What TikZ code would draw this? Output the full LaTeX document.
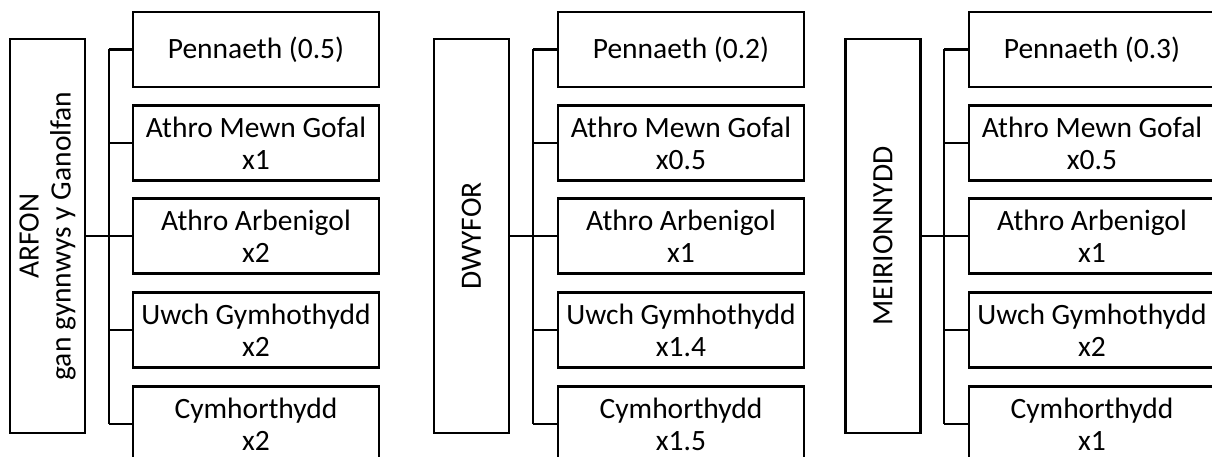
\documentclass[tikz,border=0pt]{standalone}
\usepackage{fontspec}
\setmainfont{Carlito}
\begin{document}
\begin{tikzpicture}[x=1pt,y=-1pt,
  every node/.style={font=\fontsize{29.5}{32}\selectfont, inner sep=0pt},
  child/.style={draw, line width=2.5pt, minimum width=246pt, minimum height=75pt, align=center},
  parent/.style={draw, line width=2.5pt, rotate=90, minimum width=394pt, minimum height=75pt, align=center},
  conn/.style={line width=2.5pt}]
\clip (0,0) rectangle (1212,457);
\useasboundingbox (0,0) rectangle (1212,457);
% group 1
\node[parent] (p1) at (47.5,236) {ARFON\\gan gynnwys y Ganolfan};
\node[child] (a1) at (256,49.5) {Pennaeth (0.5)};
\node[child] (a2) at (256,143) {Athro Mewn Gofal\\x1};
\node[child] (a3) at (256,236) {Athro Arbenigol\\x2};
\node[child] (a4) at (256,330) {Uwch Gymhothydd\\x2};
\node[child] (a5) at (256,424) {Cymhorthydd\\x2};
\coordinate (ba) at (109,236);
% group 2
\node[parent] (p2) at (471.5,236) {DWYFOR};
\node[child] (d1) at (681,49.5) {Pennaeth (0.2)};
\node[child] (d2) at (681,143) {Athro Mewn Gofal\\x0.5};
\node[child] (d3) at (681,236) {Athro Arbenigol\\x1};
\node[child] (d4) at (681,330) {Uwch Gymhothydd\\x1.4};
\node[child] (d5) at (681,424) {Cymhorthydd\\x1.5};
\coordinate (bd) at (533,236);
% group 3
\node[parent] (p3) at (883,236) {MEIRIONNYDD};
\node[child] (m1) at (1092,49.5) {Pennaeth (0.3)};
\node[child] (m2) at (1092,143) {Athro Mewn Gofal\\x0.5};
\node[child] (m3) at (1092,236) {Athro Arbenigol\\x1};
\node[child] (m4) at (1092,330) {Uwch Gymhothydd\\x2};
\node[child] (m5) at (1092,424) {Cymhorthydd\\x1};
\coordinate (bm) at (944,236);
% connectors
\foreach \p/\b/\c in {p1/ba/a, p2/bd/d, p3/bm/m}{
  \draw[conn] (\p.south) -- (\b);
  \draw[conn] (\b |- \c1.west) -- (\b |- \c5.west);
  \foreach \i in {1,...,5}{
    \draw[conn] (\b |- \c\i.west) -- (\c\i.west);
  }
}
\end{tikzpicture}
\end{document}
